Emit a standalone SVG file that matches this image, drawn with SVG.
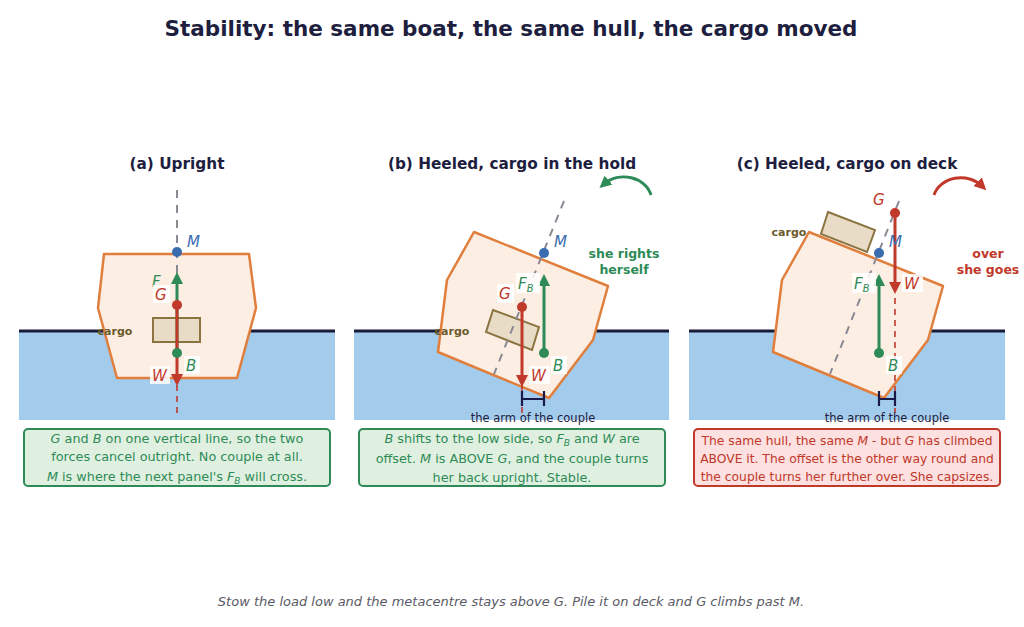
<svg xmlns="http://www.w3.org/2000/svg" width="1024" height="627" viewBox="0 0 1024 627">
<style>
text{font-family:"DejaVu Sans","Noto Sans",sans-serif}
.title{font-size:21.5px;font-weight:bold;fill:#1e1e3f}
.ptitle{font-size:15.3px;font-weight:bold;fill:#1e1e3f}
.water{fill:#a3cbeb}
.wl{stroke:#1a1a3a;stroke-width:3}
.hull{fill:#fdeee3;stroke:#e07f3d;stroke-width:2.5;stroke-linejoin:round}
.cargo{fill:#e8dcc6;stroke:#8b7440;stroke-width:2}
.clab{font-size:11px;font-weight:bold;fill:#6b5a2a}
.axis{stroke:#8a8a95;stroke-width:2;stroke-dasharray:8,7}
.fb{stroke:#2e8b57;stroke-width:3}
.w{stroke:#c0392b;stroke-width:3}
.wd{stroke:#c0392b;stroke-width:1.6;stroke-dasharray:6,5}
.lab{font-size:15px;font-style:italic}
.lm{fill:#3a6db0}.lg{fill:#c0392b}.lb{fill:#2e8b57}
.bg{fill:#fff;opacity:.85}
.gbox{fill:#e0f0e0;stroke:#2e8b57;stroke-width:2}
.rbox{fill:#fde0e0;stroke:#c0392b;stroke-width:2}
.gt{font-size:12.8px;fill:#2e8b57}
.rt{font-size:12.3px;fill:#c0392b}
.arm{stroke:#1a1a4a;stroke-width:2.2;fill:none}
.armt{font-size:11.5px;fill:#1e1e3f}
</style>
<defs>
<marker id="ag" viewBox="0 0 10 10" refX="5" refY="5" markerWidth="4" markerHeight="4" orient="auto-start-reverse"><path d="M0,0L10,5L0,10z" fill="#2e8b57"/></marker>
<marker id="ar" viewBox="0 0 10 10" refX="5" refY="5" markerWidth="4" markerHeight="4" orient="auto-start-reverse"><path d="M0,0L10,5L0,10z" fill="#c0392b"/></marker>
</defs>
<text class="title" x="511" y="36" text-anchor="middle">Stability: the same boat, the same hull, the cargo moved</text>

<g id="panel-a">
<text class="ptitle" x="177" y="169" text-anchor="middle">(a) Upright</text>
<rect class="water" x="19" y="331" width="316" height="89"/>
<line class="wl" x1="19" y1="331" x2="335" y2="331"/>
<polygon class="hull" points="104,254 249,254 256,308 237,378 117,378 98,308"/>
<rect class="cargo" x="153" y="318" width="47" height="24"/>
<text class="clab" x="115" y="335" text-anchor="middle">cargo</text>
<line class="axis" x1="177" y1="190" x2="177" y2="300"/>
<line class="wd" x1="177" y1="385" x2="177" y2="413"/>
<line class="fb" x1="177" y1="353" x2="177" y2="278" marker-end="url(#ag)"/>
<line class="w" x1="177" y1="305" x2="177" y2="380" marker-end="url(#ar)"/>
<circle cx="177" cy="252" r="5" fill="#3a6db0"/>
<circle cx="177" cy="305" r="5" fill="#c0392b"/>
<circle cx="177" cy="353" r="5" fill="#2e8b57"/>
<text class="lab lb" x="152" y="287">F</text>
<rect class="bg" x="153" y="285" width="17" height="18"/>
<text class="lab lm" x="187" y="247">M</text>
<text class="lab lg" x="155" y="300">G</text>
<rect class="bg" x="184" y="356" width="16" height="18"/>
<text class="lab lb" x="186" y="371">B</text>
<rect class="bg" x="150" y="366" width="20" height="18"/>
<text class="lab lg" x="152" y="381">W</text>
<rect class="gbox" x="24" y="429" width="306" height="57" rx="4"/>
<text class="gt" x="177" y="443" text-anchor="middle"><tspan font-style="italic">G</tspan> and <tspan font-style="italic">B</tspan> on one vertical line, so the two</text>
<text class="gt" x="177" y="461" text-anchor="middle">forces cancel outright. No couple at all.</text>
<text class="gt" x="177" y="481" text-anchor="middle"><tspan font-style="italic">M</tspan> is where the next panel's <tspan font-style="italic">F</tspan><tspan font-style="italic" font-size="9" dy="3">B</tspan><tspan dy="-3"> will cross.</tspan></text>
</g>

<g id="panel-b">
<text class="ptitle" x="512" y="169" text-anchor="middle">(b) Heeled, cargo in the hold</text>
<rect class="water" x="354" y="331" width="315" height="89"/>
<line class="wl" x1="354" y1="331" x2="669" y2="331"/>
<polygon class="hull" points="474,232 608,286 593,340 549,398 438,352 447,280"/>
<polygon class="cargo" points="493,310 539,327 532,350 486,332"/>
<text class="clab" x="452" y="335" text-anchor="middle">cargo</text>
<line class="axis" x1="564" y1="201" x2="494" y2="374"/>
<line class="wd" x1="522" y1="385" x2="522" y2="413"/>
<line class="fb" x1="544" y1="353" x2="544" y2="280" marker-end="url(#ag)"/>
<line class="w" x1="522" y1="307" x2="522" y2="381" marker-end="url(#ar)"/>
<circle cx="544" cy="253" r="5" fill="#3a6db0"/>
<circle cx="522" cy="307" r="5" fill="#c0392b"/>
<circle cx="544" cy="353" r="5" fill="#2e8b57"/>
<text class="lab lm" x="554" y="247">M</text>
<rect class="bg" x="497" y="284" width="17" height="19"/>
<text class="lab lg" x="499" y="299">G</text>
<rect class="bg" x="516" y="273" width="24" height="20"/>
<text class="lab lb" x="518" y="289">F<tspan font-size="10" dy="3">B</tspan></text>
<rect class="bg" x="551" y="356" width="16" height="18"/>
<text class="lab lb" x="553" y="371">B</text>
<rect class="bg" x="529" y="366" width="21" height="18"/>
<text class="lab lg" x="531" y="381">W</text>
<path class="arm" d="M522,391V406M544,391V406M522,399H544"/>
<text class="armt" x="533" y="422" text-anchor="middle">the arm of the couple</text>
<path d="M651,195A28,24 0 0 0 604,184" fill="none" stroke="#2e8b57" stroke-width="3" marker-end="url(#ag)"/>
<text x="624" y="258" text-anchor="middle" font-size="12.5" font-weight="bold" fill="#2e8b57">she rights</text>
<text x="624" y="274" text-anchor="middle" font-size="12.5" font-weight="bold" fill="#2e8b57">herself</text>
<rect class="gbox" x="359" y="429" width="306" height="57" rx="4"/>
<text class="gt" x="512" y="443" text-anchor="middle"><tspan font-style="italic">B</tspan> shifts to the low side, so <tspan font-style="italic">F</tspan><tspan font-style="italic" font-size="9" dy="3">B</tspan><tspan dy="-3"> and </tspan><tspan font-style="italic">W</tspan> are</text>
<text class="gt" x="512" y="463" text-anchor="middle">offset. <tspan font-style="italic">M</tspan> is ABOVE <tspan font-style="italic">G</tspan>, and the couple turns</text>
<text class="gt" x="512" y="482" text-anchor="middle">her back upright. Stable.</text>
</g>

<g id="panel-c">
<text class="ptitle" x="847" y="169" text-anchor="middle">(c) Heeled, cargo on deck</text>
<rect class="water" x="689" y="331" width="316" height="89"/>
<line class="wl" x1="689" y1="331" x2="1005" y2="331"/>
<polygon class="hull" points="809,232 943,286 928,340 884,398 773,352 782,280"/>
<polygon class="cargo" points="828,212 875,230 867,252 821,234"/>
<text class="clab" x="789" y="236" text-anchor="middle">cargo</text>
<line class="axis" x1="899" y1="201" x2="830" y2="374"/>
<line class="wd" x1="895" y1="298" x2="895" y2="413"/>
<line class="fb" x1="879" y1="353" x2="879" y2="280" marker-end="url(#ag)"/>
<line class="w" x1="895" y1="213" x2="895" y2="288" marker-end="url(#ar)"/>
<circle cx="879" cy="253" r="5" fill="#3a6db0"/>
<circle cx="895" cy="213" r="5" fill="#c0392b"/>
<circle cx="879" cy="353" r="5" fill="#2e8b57"/>
<text class="lab lg" x="873" y="205">G</text>
<text class="lab lm" x="889" y="247">M</text>
<rect class="bg" x="852" y="273" width="24" height="20"/>
<text class="lab lb" x="854" y="289">F<tspan font-size="10" dy="3">B</tspan></text>
<rect class="bg" x="902" y="274" width="21" height="18"/>
<text class="lab lg" x="904" y="289">W</text>
<rect class="bg" x="886" y="356" width="16" height="18"/>
<text class="lab lb" x="888" y="371">B</text>
<path class="arm" d="M879,391V406M895,391V406M879,399H895"/>
<text class="armt" x="887" y="422" text-anchor="middle">the arm of the couple</text>
<path d="M934,195A28,24 0 0 1 982,186" fill="none" stroke="#c0392b" stroke-width="3" marker-end="url(#ar)"/>
<text x="988" y="258" text-anchor="middle" font-size="12.5" font-weight="bold" fill="#c0392b">over</text>
<text x="988" y="274" text-anchor="middle" font-size="12.5" font-weight="bold" fill="#c0392b">she goes</text>
<rect class="rbox" x="694" y="429" width="306" height="57" rx="4"/>
<text class="rt" x="847" y="445" text-anchor="middle">The same hull, the same <tspan font-style="italic">M</tspan> - but <tspan font-style="italic">G</tspan> has climbed</text>
<text class="rt" x="847" y="463" text-anchor="middle">ABOVE it. The offset is the other way round and</text>
<text class="rt" x="847" y="481" text-anchor="middle">the couple turns her further over. She capsizes.</text>
</g>

<text x="511" y="606" text-anchor="middle" font-size="13" font-style="italic" fill="#5a5a66">Stow the load low and the metacentre stays above G. Pile it on deck and G climbs past M.</text>
</svg>
